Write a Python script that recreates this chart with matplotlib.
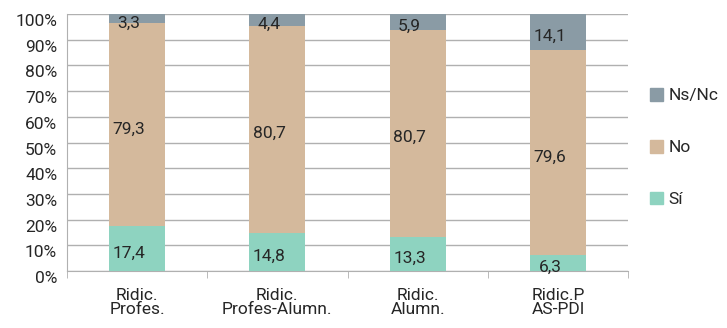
import matplotlib

matplotlib.use("Agg")
import matplotlib.pyplot as plt  # noqa: E402
import matplotlib.transforms as mtransforms  # noqa: E402
from matplotlib.patches import Patch  # noqa: E402
import numpy as np  # noqa: E402

categories = ["Ridic.\nProfes.", "Ridic.\nProfes-Alumn.", "Ridic.\nAlumn.", "Ridic.P\nAS-PDI"]
si_vals = [17.4, 14.8, 13.3, 6.3]
no_vals = [79.3, 80.7, 80.7, 79.6]
nsnc_vals = [3.3, 4.4, 5.9, 14.1]
y_ticks = [0, 10, 20, 30, 40, 50, 60, 70, 80, 90, 100]

series = [
    ("Sí", si_vals, "#8ed3c0"),
    ("No", no_vals, "#d4b99c"),
    ("Ns/Nc", nsnc_vals, "#8a9ba5"),
]

text_color = "#262626"
grid_color = "#b0b0b0"

plt.rcParams["font.family"] = ["Roboto", "DejaVu Sans"]

fig = plt.figure(figsize=(7.27, 3.28), dpi=100)
ax = fig.add_axes([0.092, 0.174, 0.772, 0.783])

# value labels sit a bit left of and below the segment centre in the original
label_shift = ax.transData + mtransforms.ScaledTranslation(-8 / 100, -4.5 / 100, fig.dpi_scale_trans)

x = np.arange(len(categories))
bottom = np.zeros(len(categories))
for name, vals, color in series:
    vals = np.array(vals)
    ax.bar(x, vals, width=0.4, bottom=bottom, color=color, zorder=3)
    for xi, b, v in zip(x, bottom, vals):
        ax.text(xi, b + v / 2, f"{v:.1f}".replace(".", ","), ha="center", va="center",
                fontsize=12.5, color=text_color, zorder=4, transform=label_shift)
    bottom = bottom + vals

ax.set_xlim(-0.5, len(categories) - 0.5)
ax.set_ylim(0, 100)
ax.set_yticks(y_ticks)
ax.set_yticklabels([f"{t}%" for t in y_ticks], fontsize=12.5, color=text_color)
ax.set_xticks(x)
ax.set_xticklabels(categories, fontsize=12.5, color=text_color, linespacing=0.95)
ax.set_xticks(np.arange(len(categories) + 1) - 0.5, minor=True)
ax.tick_params(axis="x", which="major", length=0, pad=12)
ax.tick_params(axis="x", which="minor", length=5, color=grid_color, direction="out")
ax.tick_params(axis="y", length=0, pad=7)

# y tick labels sit a little below their gridlines in the original
shift = mtransforms.ScaledTranslation(0, -6 / 100, fig.dpi_scale_trans)
for lab in ax.get_yticklabels():
    lab.set_transform(lab.get_transform() + shift)

ax.grid(axis="y", color=grid_color, linewidth=1, zorder=0)
for side in ["top", "right"]:
    ax.spines[side].set_visible(False)
ax.spines["left"].set_color(grid_color)
ax.spines["bottom"].set_color(grid_color)

handles = [Patch(color=c, label=n) for n, _, c in reversed(series)]
fig.legend(handles=handles, loc="center left", bbox_to_anchor=(0.872, 0.55),
           frameon=False, fontsize=12.5, handlelength=0.75, handleheight=0.75,
           handletextpad=0.35, labelspacing=2.1, labelcolor=text_color)

fig.savefig("out.png", dpi=100)
